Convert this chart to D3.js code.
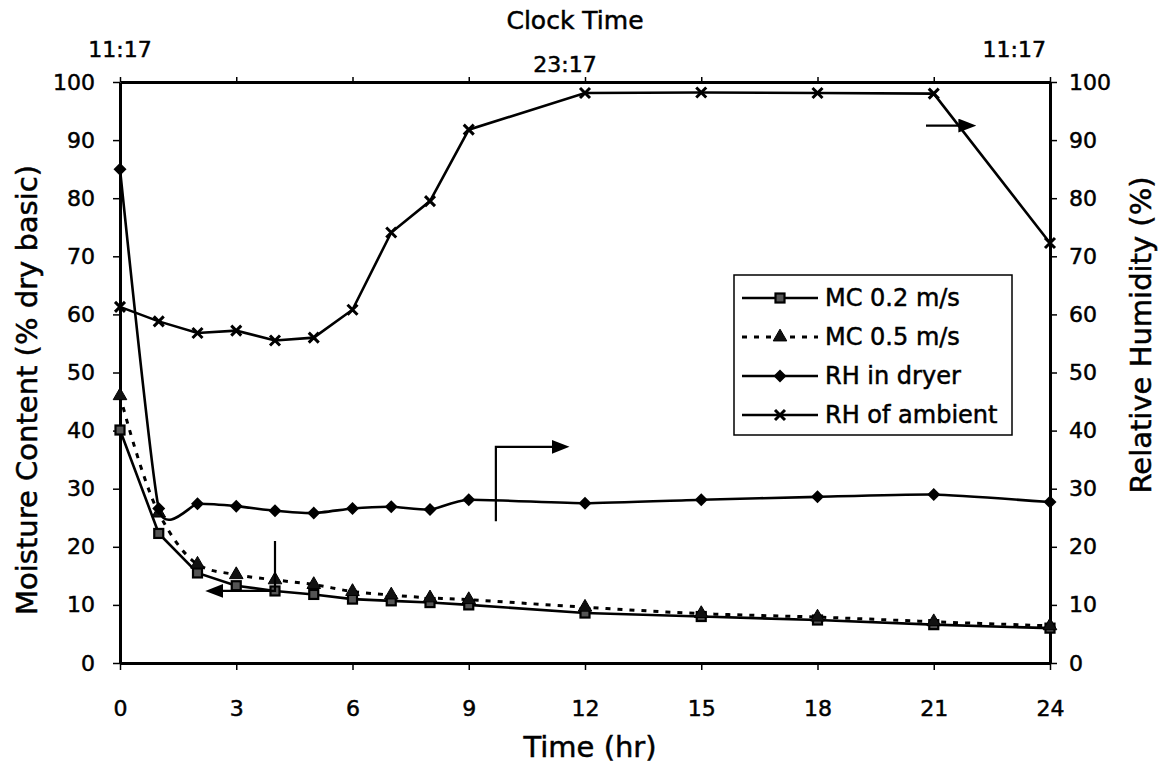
<!DOCTYPE html>
<html>
<head>
<meta charset="utf-8">
<script src="https://cdn.jsdelivr.net/npm/d3@7"></script>
<style>
  body { margin: 0; background: #fff; }
  text { font-family: "DejaVu Sans", "Liberation Sans", Arial, sans-serif; fill: #000; stroke: #000; stroke-width: 0.5px; }
</style>
</head>
<body>
<svg id="chart" width="1171" height="770"></svg>
<script>
// data
const hours = [0, 1, 2, 3, 4, 5, 6, 7, 8, 9, 12, 15, 18, 21, 24];
const mc02 = [40.1, 22.3, 15.5, 13.3, 12.4, 11.8, 11.0, 10.7, 10.4, 10.0, 8.6, 8.0, 7.4, 6.6, 6.0];
const mc05 = [46.0, 25.8, 17.0, 15.2, 14.3, 13.5, 12.3, 11.7, 11.2, 10.9, 9.6, 8.5, 7.9, 7.1, 6.4];
const rhDryer = [85.0, 26.6, 27.4, 27.0, 26.2, 25.8, 26.6, 26.9, 26.4, 28.1, 27.5, 28.1, 28.6, 29.0, 27.7];
const rhAmbient = [61.3, 58.8, 56.8, 57.2, 55.5, 56.0, 60.8, 74.1, 79.5, 91.8, 98.1, 98.2, 98.1, 98.0, 72.3];

const xTicks = [0, 3, 6, 9, 12, 15, 18, 21, 24];
const yTicks = [0, 10, 20, 30, 40, 50, 60, 70, 80, 90, 100];
const clockHours = [0, 12, 24];
const clockLabels = ['11:17', '23:17', '11:17'];
const legendLabels = ['MC 0.2 m/s', 'MC 0.5 m/s', 'RH in dryer', 'RH of ambient'];

// arrow annotations, in data units [hr, value]
const arrowMC = [[4, 21], [4, 12.4], [2.2, 12.4]];
const arrowDryer = [[9.7, 24.4], [9.7, 37.2], [11.6, 37.2]];
const arrowAmbient = [[20.8, 92.5], [22.1, 92.5]];

const svg = d3.select('#chart');
const margin = { top: 82, right: 121, bottom: 107, left: 120 };
const W = 1171 - margin.left - margin.right;
const H = 770 - margin.top - margin.bottom;

const x = d3.scaleLinear().domain([0, 24]).range([0, W]);
const yL = d3.scaleLinear().domain([0, 100]).range([H, 0]);
const yR = d3.scaleLinear().domain([0, 100]).range([H, 0]);

const g = svg.append('g').attr('transform', `translate(${margin.left},${margin.top})`);

// axes
function styleAxis(sel, size) {
    sel.attr('font-family', null);
    sel.select('.domain').attr('stroke', '#000').attr('stroke-width', 3);
    sel.selectAll('.tick line').attr('stroke', '#000').attr('stroke-width', 1.5);
    sel.selectAll('.tick text').style('font-size', size + 'px');
}

g.append('g')
    .attr('transform', `translate(0,${H})`)
    .call(d3.axisBottom(x).tickValues(xTicks).tickSize(7).tickPadding(30).tickSizeOuter(0))
    .call(s => styleAxis(s, 22));

g.append('g')
    .call(d3.axisTop(x).tickValues(xTicks).tickSize(5).tickFormat('').tickSizeOuter(0))
    .call(s => styleAxis(s, 22));

g.append('g')
    .call(d3.axisLeft(yL).tickValues(yTicks).tickSize(7).tickPadding(18).tickSizeOuter(0))
    .call(s => styleAxis(s, 22));

g.append('g')
    .attr('transform', `translate(${W},0)`)
    .call(d3.axisRight(yR).tickValues(yTicks).tickSize(7).tickPadding(12).tickSizeOuter(0))
    .call(s => styleAxis(s, 22));

// top clock labels
g.selectAll('.clock')
    .data(clockHours)
    .enter().append('text')
    .attr('class', 'clock')
    .attr('x', (d, i) => x(d) + (i === 1 ? -20 : 0))
    .attr('y', (d, i) => i === 1 ? -10 : -25)
    .attr('text-anchor', (d, i) => i === 2 ? 'end' : 'middle')
    .attr('dx', (d, i) => i === 2 ? -4 : 0)
    .style('font-size', '22px')
    .text((d, i) => clockLabels[i]);

// titles
svg.append('text')
    .attr('x', 575).attr('y', 29)
    .attr('text-anchor', 'middle')
    .style('font-size', '25px')
    .text('Clock Time');

svg.append('text')
    .attr('x', 590).attr('y', 757)
    .attr('text-anchor', 'middle')
    .style('font-size', '29px')
    .text('Time (hr)');

svg.append('text')
    .attr('transform', 'translate(37,390) rotate(-90)')
    .attr('text-anchor', 'middle')
    .style('font-size', '29px')
    .text('Moisture Content  (% dry basic)');

svg.append('text')
    .attr('transform', 'translate(1151,335) rotate(-90)')
    .attr('text-anchor', 'middle')
    .style('font-size', '29px')
    .text('Relative Humidity (%)');

// series
const series = [
    { vals: mc02, y: yL, curve: d3.curveLinear, dash: null, marker: 'square' },
    { vals: mc05, y: yL, curve: d3.curveCatmullRom, dash: '5,7', marker: 'triangle' },
    { vals: rhDryer, y: yR, curve: d3.curveCardinal.tension(0.5), dash: null, marker: 'diamond' },
    { vals: rhAmbient, y: yR, curve: d3.curveLinear, dash: null, marker: 'cross' }
];

function drawMarker(sel, type) {
    if (type === 'square') {
        sel.append('rect').attr('x', -4.5).attr('y', -4.5).attr('width', 9).attr('height', 9)
            .attr('fill', '#555').attr('stroke', '#000').attr('stroke-width', 2.2);
    } else if (type === 'triangle') {
        sel.append('path').attr('d', d3.symbol(d3.symbolTriangle, 80)())
            .attr('fill', '#111').attr('stroke', '#000').attr('stroke-width', 1);
    } else if (type === 'diamond') {
        sel.append('path').attr('d', 'M0,-6.5L6.5,0L0,6.5L-6.5,0Z').attr('fill', '#000');
    } else {
        sel.append('path').attr('d', 'M-5,-5L5,5M-5,5L5,-5')
            .attr('stroke', '#000').attr('stroke-width', 3);
    }
}

series.forEach(s => {
    const pts = hours.map((h, i) => [h, s.vals[i]]);
    const line = d3.line().x(d => x(d[0])).y(d => s.y(d[1])).curve(s.curve);
    g.append('path')
        .datum(pts)
        .attr('fill', 'none')
        .attr('stroke', '#000')
        .attr('stroke-width', s.dash ? 3 : 2.6)
        .attr('stroke-dasharray', s.dash)
        .attr('d', line);
    g.selectAll(null)
        .data(pts)
        .enter().append('g')
        .attr('transform', d => `translate(${x(d[0])},${s.y(d[1])})`)
        .each(function () { drawMarker(d3.select(this), s.marker); });
});

// arrows
const defs = svg.append('defs');
defs.append('marker')
    .attr('id', 'head')
    .attr('markerUnits', 'userSpaceOnUse')
    .attr('viewBox', '0 0 18 14')
    .attr('refX', 2).attr('refY', 7)
    .attr('markerWidth', 18).attr('markerHeight', 14)
    .attr('orient', 'auto')
    .append('path')
    .attr('d', 'M0,0L18,7L0,14Z')
    .attr('fill', '#000');

[arrowMC, arrowDryer, arrowAmbient].forEach(a => {
    // shorten last segment so the head tip lands on the end point
    const last = a[a.length - 1], prev = a[a.length - 2];
    const dx = x(last[0]) - x(prev[0]);
    const pts = a.map(d => [x(d[0]), yL(d[1])]);
    pts[pts.length - 1][0] -= Math.sign(dx) * 16;
    g.append('path')
        .attr('d', d3.line()(pts))
        .attr('fill', 'none')
        .attr('stroke', '#000')
        .attr('stroke-width', 2.2)
        .attr('marker-end', 'url(#head)');
});

// legend
const lg = svg.append('g').attr('transform', 'translate(734,275)');
lg.append('rect')
    .attr('width', 278).attr('height', 160)
    .attr('fill', '#fff').attr('stroke', '#000').attr('stroke-width', 1.5);
const rowY = d3.scalePoint().domain(legendLabels).range([23, 140]);
legendLabels.forEach((lab, i) => {
    const row = lg.append('g').attr('transform', `translate(0,${rowY(lab)})`);
    row.append('line')
        .attr('x1', 8).attr('x2', 84)
        .attr('stroke', '#000')
        .attr('stroke-width', series[i].dash ? 3 : 2.5)
        .attr('stroke-dasharray', series[i].dash);
    drawMarker(row.append('g').attr('transform', 'translate(46,0)'), series[i].marker);
    row.append('text')
        .attr('x', 91).attr('dy', '0.35em')
        .style('font-size', '24px')
        .text(lab);
});
</script>
</body>
</html>
